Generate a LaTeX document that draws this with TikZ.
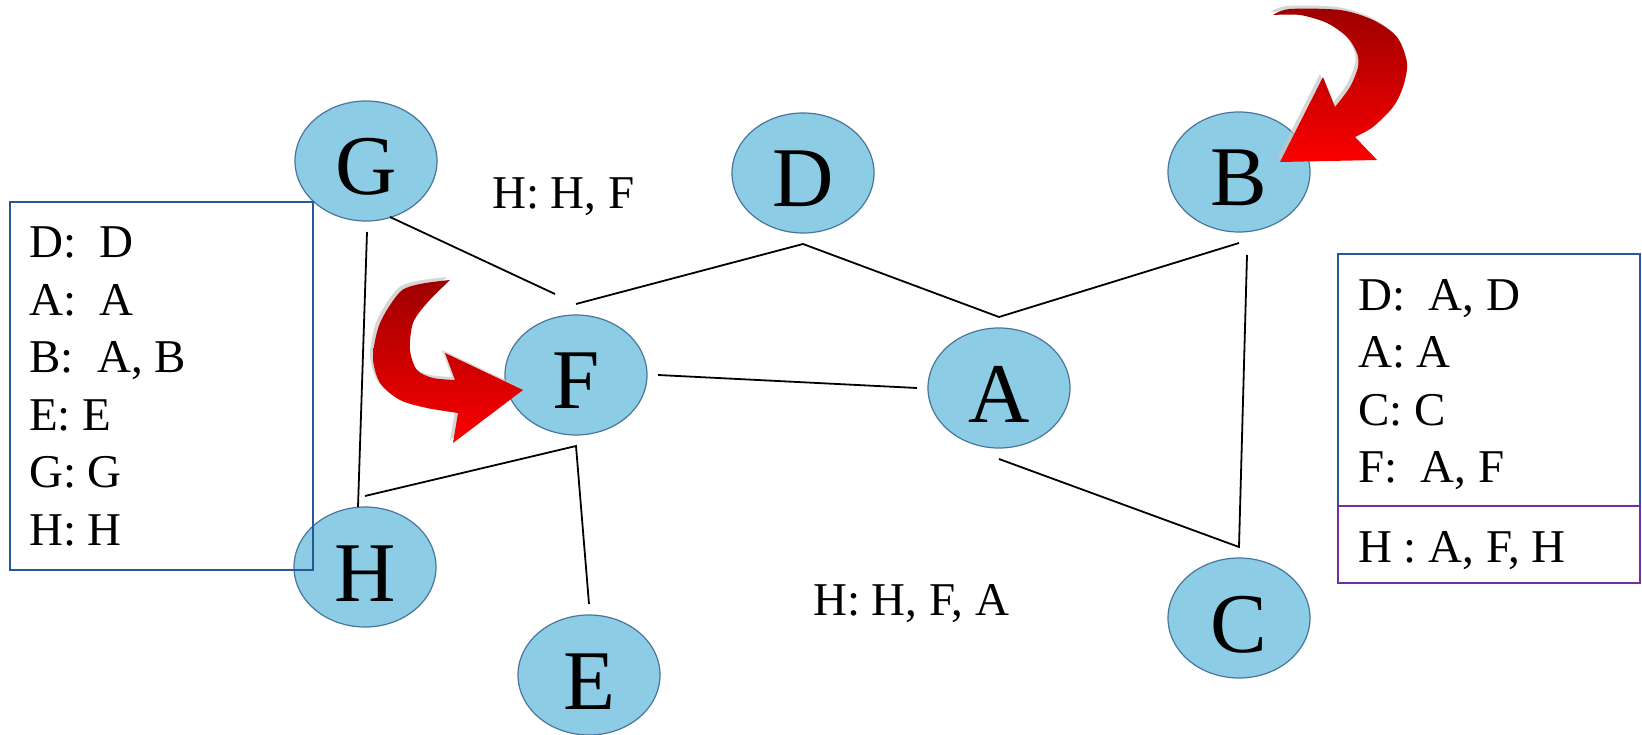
\documentclass[tikz,border=0pt]{standalone}
\usepackage{fontspec}
\setmainfont{Liberation Serif}
\usetikzlibrary{shapes.geometric,calc}

\definecolor{nodefill}{RGB}{140,204,229}
\definecolor{nodeline}{RGB}{72,118,155}
\definecolor{boxblue}{RGB}{36,88,152}
\definecolor{boxpurple}{RGB}{112,48,160}
\definecolor{arrowdark}{RGB}{158,0,0}
\definecolor{arrowlight}{RGB}{252,0,0}

% outlines of the two bent arrows
\newcommand\bentarrowtop{%
  (1273,15) -- plot[smooth] coordinates {(1273,15) (1290,9) (1340,10) (1373,20) (1397,37) (1407,63) (1403,87) (1393,107) (1373,127) (1355,137)}
  -- (1377,160) -- (1280,162) -- (1323,77) -- (1335,107)
  -- plot[smooth] coordinates {(1335,107) (1350,87) (1358,67) (1357,53) (1347,37) (1327,23) (1300,15) (1273,15)} -- cycle}
\newcommand\bentarrowleft{%
  (450,280) -- plot[smooth] coordinates {(450,280) (420,284) (400,292) (380,323) (373,357) (380,383) (400,400) (427,408) (458,413)}
  -- (453,443) -- (523,390) -- (445,353) -- (455,380)
  -- plot[smooth] coordinates {(455,380) (433,378) (417,370) (410,350) (413,323) (427,303) (450,280)} -- cycle}

\begin{document}
\begin{tikzpicture}[x=1pt,y=-1pt,
  vertex/.style={ellipse, draw=nodeline, line width=1.2pt, fill=nodefill,
    minimum width=142pt, minimum height=120pt, inner sep=0pt, outer sep=11pt,
    font=\fontsize{85}{85}\selectfont, text height=68pt, text depth=0pt},
  link/.style={line width=1.8pt, black},
  entry/.style={anchor=base west, inner sep=0pt, font=\fontsize{47}{56}\selectfont},
  frameblue/.style={draw=boxblue, line width=2pt},
  framepurple/.style={draw=boxpurple, line width=2pt},
  arrowshadow/.style={fill=gray!45, opacity=0.7},
  arrowbody/.style={top color=arrowdark, bottom color=arrowlight}]

\useasboundingbox[fill=white] (0,0) rectangle (1642,735);

% graph vertices
\node[vertex] (G) at (366,161) {G};
\node[vertex] (D) at (803,173) {D};
\node[vertex] (B) at (1239,172) {B};
\node[vertex] (F) at (576,375) {F};
\node[vertex] (A) at (999,388) {A};
\node[vertex] (H) at (365,567) {H};
\node[vertex] (E) at (589,675) {E};
\node[vertex] (C) at (1239,618) {C};

% graph edges
\draw[link] (F.north) -- (D.south) -- (A.north) -- (B.south);
\draw[link] ($(G)+(24,56)$) -- ($(F)+(-21,-81)$);
\draw[link] ($(G)+(1,71)$) -- ($(H)+(-7,-60)$);
\draw[link] (F.east) -- (A.west);
\draw[link] (H.north) -- (F.south) -- (E.north);
\draw[link] (A.south) -- (C.north) -- ($(B)+(8,83)$);

% left table
\draw[frameblue] (10,202) rectangle (313,570);
\node[entry] (l1) at (29,258) {D:~ D};
\node[entry] (l2) at (29,315.5) {A:~ A};
\node[entry] (l3) at (29,373) {B:~ A, B};
\node[entry] (l4) at (29,430) {E: E};
\node[entry] (l5) at (29,487.5) {G: G};
\node[entry] (l6) at (29,545) {H: H};

% right table
\draw[frameblue] (1338,254) rectangle (1640,506);
\draw[framepurple] (1338,506) rectangle (1640,583);
\node[entry] (r1) at (1358,311) {D:~ A, D};
\node[entry] (r2) at (1358,368) {A: A};
\node[entry] (r3) at (1358,425) {C: C};
\node[entry] (r4) at (1358,482) {F:~ A, F};
\node[entry] (r5) at (1358,562) {H : A, F, H};

% free labels
\node[entry] (hf) at (492,209) {H: H, F};
\node[entry] (hfa) at (813,615) {H: H, F, A};

% bent arrows
\fill[arrowshadow, shift={(-3,-3)}] \bentarrowtop;
\shade[arrowbody] \bentarrowtop;
\fill[arrowshadow, shift={(-3,-3)}] \bentarrowleft;
\shade[arrowbody] \bentarrowleft;

\end{tikzpicture}
\end{document}
